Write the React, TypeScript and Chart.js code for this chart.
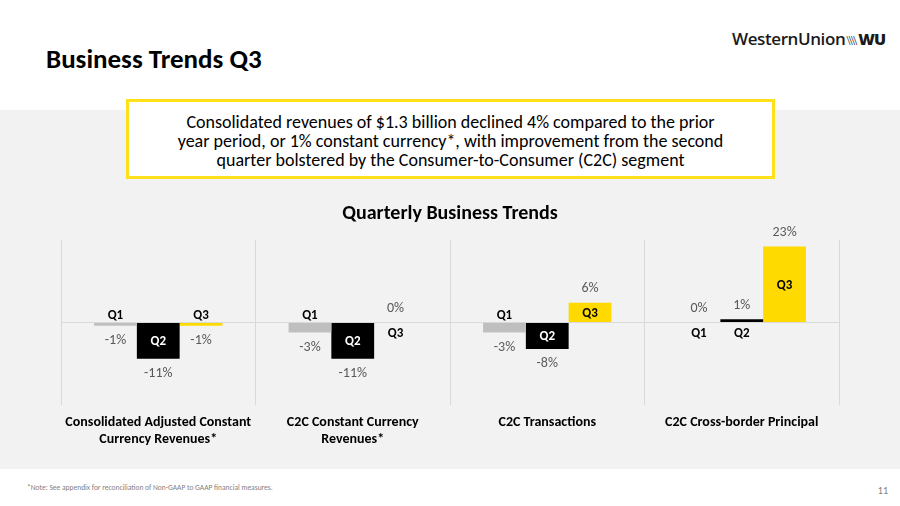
import React, { useEffect, useRef } from "react";
import { Chart, registerables } from "chart.js";

Chart.register(...registerables);

// ---- Data ----
const categories: (string | string[])[] = [
  ["Consolidated Adjusted Constant", "Currency Revenues*"],
  ["C2C Constant Currency", "Revenues*"],
  "C2C Transactions",
  "C2C Cross-border Principal",
];
const seriesNames = ["Q1", "Q2", "Q3"];
const q1Values = [-1, -3, -3, 0];
const q2Values = [-11, -11, -8, 1];
const q3Values = [-1, 0, 6, 23];
const yMin = -25;
const yMax = 25;

const FONT = "Carlito, Lato, 'Open Sans', sans-serif";
const GRAY = "#BFBFBF";
const BLACK = "#000000";
const YELLOW = "#FFDA00";

const labelPlugin = {
  id: "barLabels",
  afterDatasetsDraw(chart: any) {
    const ctx = chart.ctx;
    const zeroY = chart.scales.y.getPixelForValue(0);
    ctx.save();
    ctx.textAlign = "center";
    ctx.textBaseline = "middle";
    chart.data.datasets.forEach((ds: any, di: number) => {
      const meta = chart.getDatasetMeta(di);
      meta.data.forEach((el: any, i: number) => {
        const v = ds.data[i] as number;
        const top = Math.min(el.y, el.base);
        const bottom = Math.max(el.y, el.base);
        const h = bottom - top;
        // value label
        ctx.font = `14px ${FONT}`;
        ctx.fillStyle = "#595959";
        const vy = v < 0 ? bottom + 15 : top - 14;
        ctx.fillText(`${v}%`, el.x, vy);
        // series name label
        ctx.font = `bold 13px ${FONT}`;
        let ny: number;
        if (h >= 18) {
          ny = (top + bottom) / 2 + 1;
          ctx.fillStyle = di === 1 ? "#ffffff" : "#000000";
        } else {
          ny = v < 0 ? zeroY - 7 : zeroY + 11;
          ctx.fillStyle = "#000000";
        }
        ctx.fillText(ds.label, el.x, ny);
      });
    });
    ctx.restore();
  },
};

function BusinessChart() {
  const ref = useRef<HTMLCanvasElement | null>(null);
  useEffect(() => {
    if (!ref.current) return;
    const chart = new Chart(ref.current, {
      type: "bar",
      data: {
        labels: categories,
        datasets: [
          { label: seriesNames[0], data: q1Values, backgroundColor: GRAY },
          { label: seriesNames[1], data: q2Values, backgroundColor: BLACK },
          { label: seriesNames[2], data: q3Values, backgroundColor: YELLOW },
        ],
      },
      options: {
        animation: false,
        responsive: false,
        maintainAspectRatio: false,
        categoryPercentage: 0.66,
        barPercentage: 1.0,
        layout: { padding: { left: 61, right: 61, top: 0, bottom: 0 } },
        plugins: {
          legend: { display: false },
          tooltip: { enabled: false },
          title: {
            display: true,
            text: "Quarterly Business Trends",
            color: "#000000",
            font: { family: FONT, size: 20, weight: "bold", lineHeight: 1.2 },
            padding: { top: 12, bottom: 14 },
          },
        },
        scales: {
          x: {
            grid: { color: "#D9D9D9", drawTicks: false, offset: true, lineWidth: 1 },
            border: { display: false },
            ticks: {
              color: "#000000",
              font: { family: FONT, size: 14, weight: "bold", lineHeight: 1.2 },
              padding: 9,
              maxRotation: 0,
              autoSkip: false,
            },
            afterFit(scale: any) {
              scale.height = 64;
            },
          },
          y: {
            min: yMin,
            max: yMax,
            ticks: { display: false, stepSize: 5 },
            border: { display: false },
            grid: {
              drawTicks: false,
              color: (c: any) => (c.tick && c.tick.value === 0 ? "#D9D9D9" : "rgba(0,0,0,0)"),
            },
            afterFit(scale: any) {
              scale.width = 0;
            },
          },
        },
      },
      plugins: [labelPlugin],
    } as any);
    return () => chart.destroy();
  }, []);
  return <canvas ref={ref} width={900} height={279} style={{ position: "absolute", left: 0, top: 190, width: 900, height: 279 }} />;
}

export default function App() {
  return (
    <div
      style={{
        position: "fixed",
        left: 0,
        top: 0,
        width: 900,
        height: 506,
        background: "#ffffff",
        overflow: "hidden",
        fontFamily: FONT,
      }}
    >
      {/* Title */}
      <div style={{ position: "absolute", left: 46, top: 43, fontSize: 27, fontWeight: 700, color: "#000", lineHeight: "32px", whiteSpace: "nowrap" }}>
        Business Trends Q3
      </div>
      {/* Logo */}
      <div style={{ position: "absolute", left: 732, top: 29, fontSize: 17, lineHeight: "20px", color: "#1a1a1a", whiteSpace: "nowrap", fontFamily: "'Open Sans', Lato, sans-serif" }}>
        <span style={{ fontWeight: 600, letterSpacing: -0.4 }}>WesternUnion</span>
        <span style={{ fontWeight: 300, fontSize: 13, letterSpacing: -2.2, marginLeft: 1 }}>{"\\\\\\\\"}</span>
        <span style={{ fontWeight: 800, fontSize: 16, letterSpacing: -1, marginLeft: 3 }}>WU</span>
      </div>
      {/* Gray panel */}
      <div style={{ position: "absolute", left: 0, top: 110, width: 900, height: 359, background: "#F2F2F2" }} />
      {/* Yellow box */}
      <div
        style={{
          position: "absolute",
          left: 126,
          top: 99,
          width: 649,
          height: 80,
          boxSizing: "border-box",
          border: "3px solid #FFE11A",
          background: "#ffffff",
          textAlign: "center",
          fontSize: 18,
          lineHeight: "19px",
          color: "#000",
          paddingTop: 11,
        }}
      >
        Consolidated revenues of $1.3 billion declined 4% compared to the prior
        <br />
        year period, or 1% constant currency*, with improvement from the second
        <br />
        quarter bolstered by the Consumer-to-Consumer (C2C) segment
      </div>
      <BusinessChart />
      {/* Footnote */}
      <div style={{ position: "absolute", left: 27, top: 483, fontSize: 7.5, lineHeight: "10px", color: "#7F7F7F", whiteSpace: "nowrap" }}>
        *Note: See appendix for reconciliation of Non-GAAP to GAAP financial measures.
      </div>
      <div style={{ position: "absolute", right: 12, top: 484, fontSize: 10, lineHeight: "14px", color: "#7F7F7F" }}>11</div>
    </div>
  );
}
